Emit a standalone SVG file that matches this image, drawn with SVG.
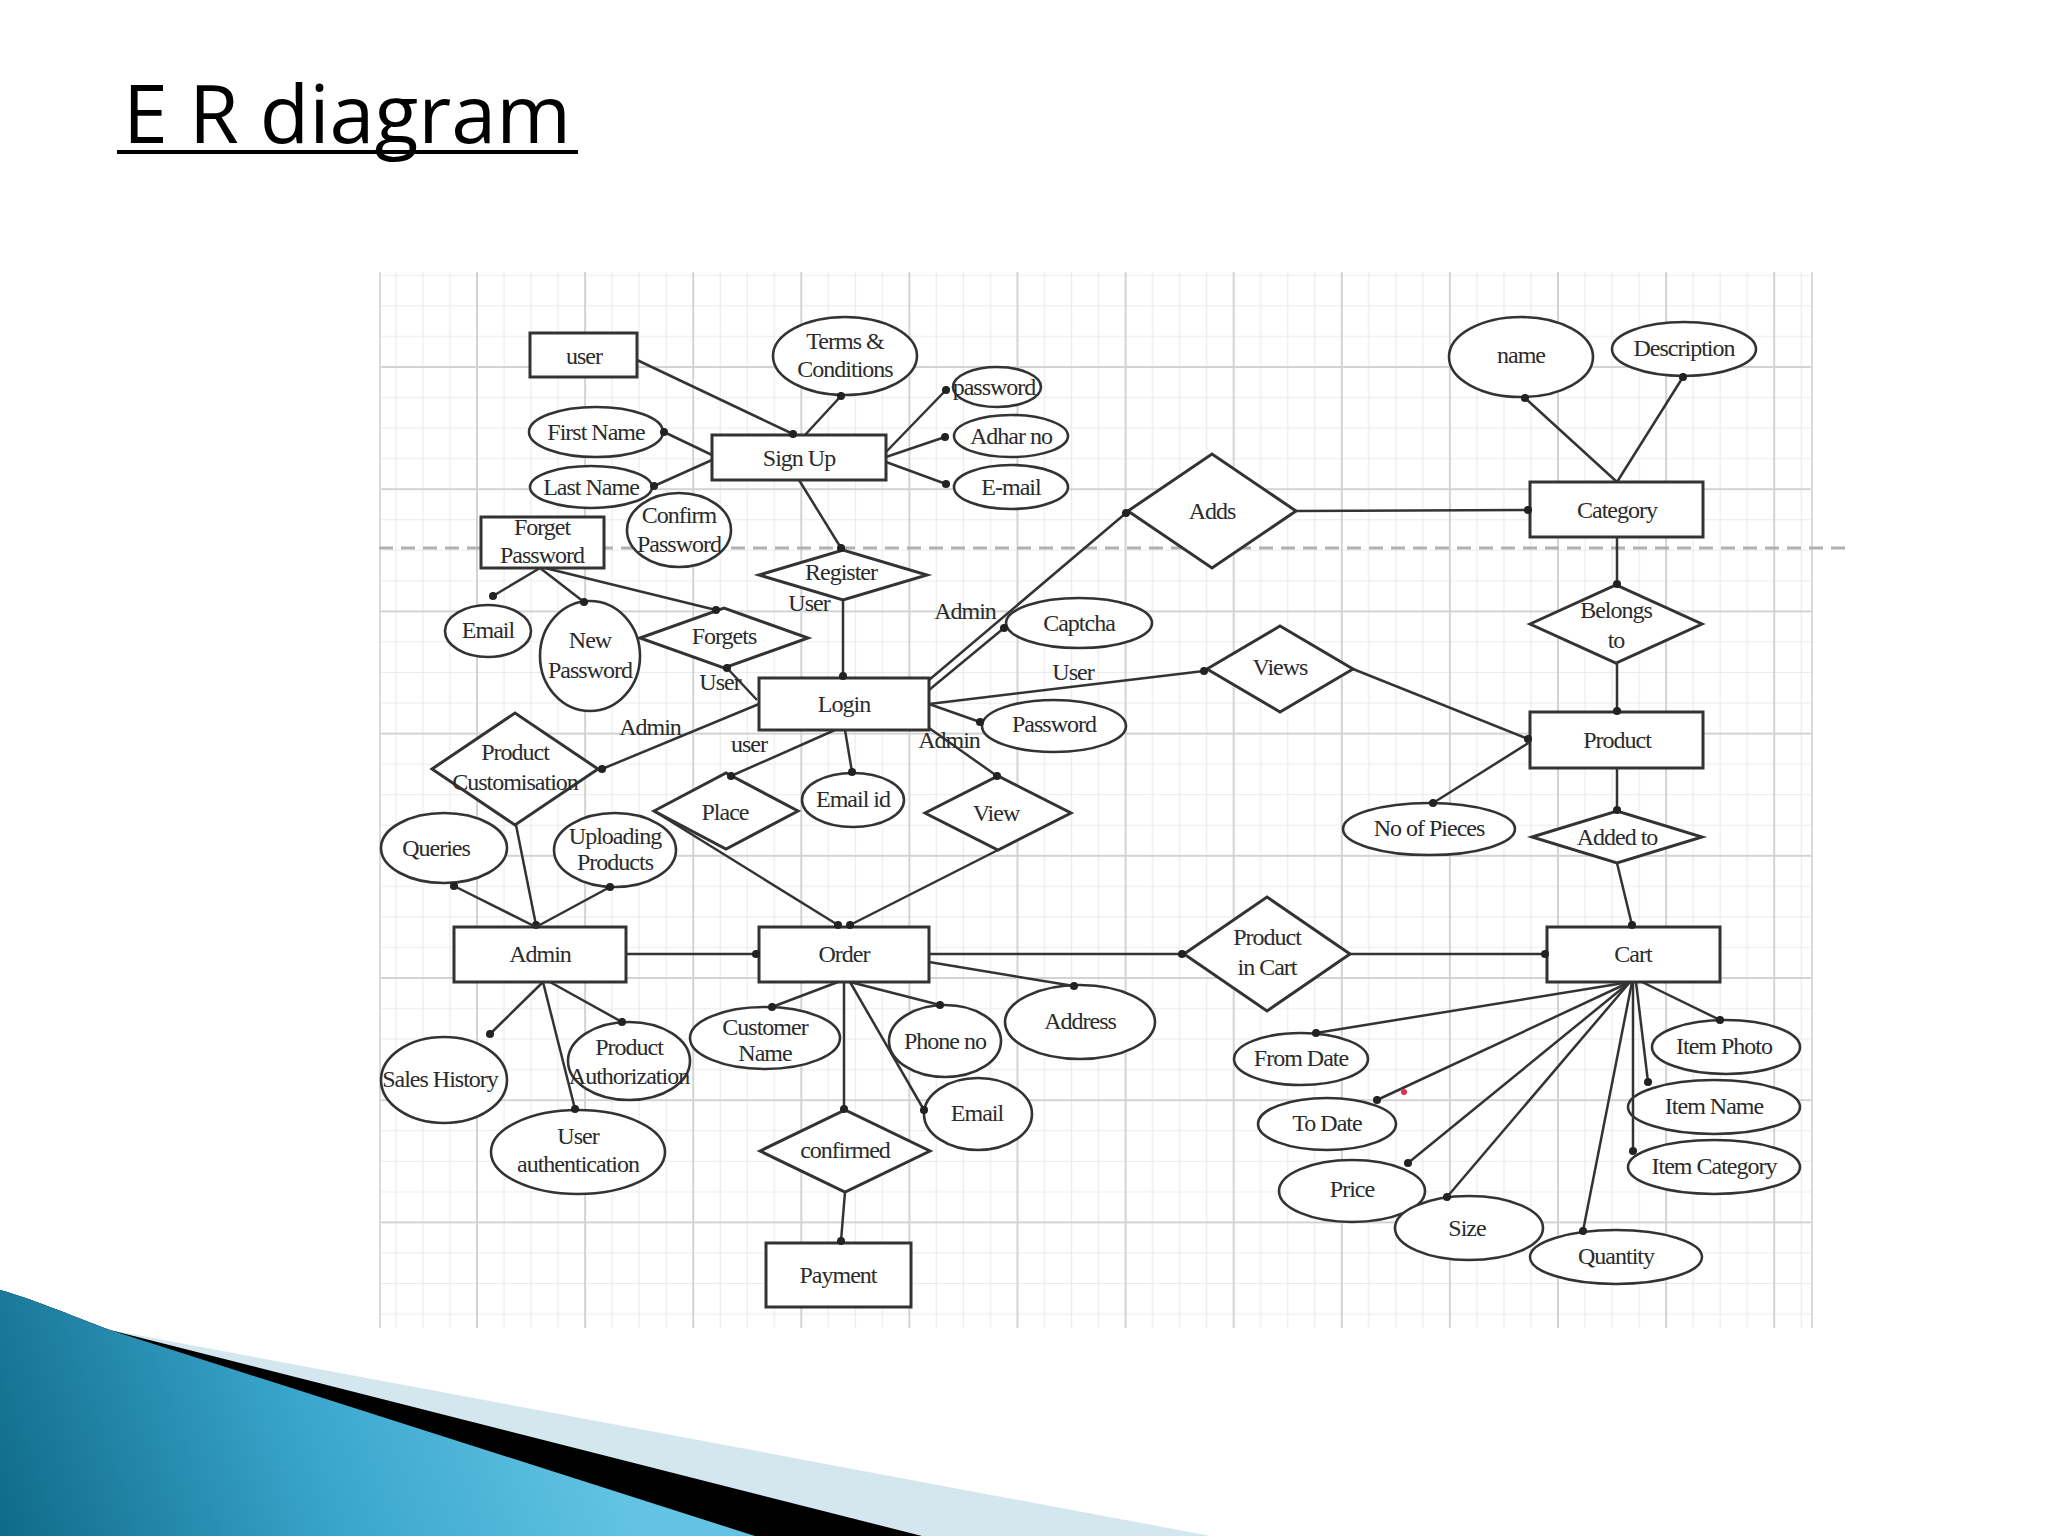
<svg xmlns="http://www.w3.org/2000/svg" width="2048" height="1536" viewBox="0 0 2048 1536">
<style>
.shape{fill:#fff;stroke:#333;stroke-width:3}
.att{fill:#fff;stroke:#333;stroke-width:2.6}
.t{font-family:"Liberation Serif","Times New Roman",serif;font-size:24px;letter-spacing:-1px;fill:#2b2b2b;text-anchor:middle;dominant-baseline:central}
.c{stroke:#333;stroke-width:2.5;fill:none;marker-end:url(#dot)}
.lbl{font-family:"Liberation Serif","Times New Roman",serif;font-size:24px;letter-spacing:-1px;fill:#2b2b2b;text-anchor:middle;dominant-baseline:central}
</style>
<defs>
<pattern id="grid" patternUnits="userSpaceOnUse" x="477" y="367" width="108.1" height="122.2">
<g stroke="#ebebeb" stroke-width="1.2">
<line x1="27.03" y1="0" x2="27.03" y2="122.2"/>
<line x1="54.05" y1="0" x2="54.05" y2="122.2"/>
<line x1="81.08" y1="0" x2="81.08" y2="122.2"/>
<line x1="0" y1="30.55" x2="108.1" y2="30.55"/>
<line x1="0" y1="61.1" x2="108.1" y2="61.1"/>
<line x1="0" y1="91.65" x2="108.1" y2="91.65"/>
</g>
<g stroke="#d3d3d3" stroke-width="2">
<line x1="0" y1="0" x2="0" y2="122.2"/>
<line x1="108.1" y1="0" x2="108.1" y2="122.2"/>
<line x1="0" y1="0" x2="108.1" y2="0"/>
<line x1="0" y1="122.2" x2="108.1" y2="122.2"/>
</g>
</pattern>
<marker id="dot" markerUnits="userSpaceOnUse" viewBox="0 0 10 10" refX="5" refY="5" markerWidth="9" markerHeight="9">
<circle cx="5" cy="5" r="4.5" fill="#222"/>
</marker>
<linearGradient id="blue" gradientUnits="userSpaceOnUse" x1="0" y1="1536" x2="560" y2="1330">
<stop offset="0" stop-color="#0f6a88"/>
<stop offset="0.55" stop-color="#3aa6cd"/>
<stop offset="1" stop-color="#62c3e2"/>
</linearGradient>
</defs>
<rect width="2048" height="1536" fill="#fff"/>
<g id="title">
<text x="123" y="143" font-family="'Open Sans','Noto Sans','DejaVu Sans',sans-serif" font-size="80" textLength="448" lengthAdjust="spacingAndGlyphs" fill="#000">E R diagram</text>
<rect x="117" y="150" width="461" height="4" fill="#000"/>
</g>
<g id="background-grid">
<rect x="379" y="272" width="1433" height="1056" fill="url(#grid)"/>
<line x1="380" y1="272" x2="380" y2="1328" stroke="#dadada" stroke-width="2"/>
<line x1="1812" y1="272" x2="1812" y2="1328" stroke="#dadada" stroke-width="2"/>
<line x1="379" y1="548" x2="1848" y2="548" stroke="#b0b0b0" stroke-width="3" stroke-dasharray="14 8"/>
</g>
<g id="decoration">
<path d="M0,1290 C30,1298 70,1315 110,1330 L1211,1536 L0,1536 Z" fill="#d4e7ef"/>
<path d="M0,1290 C30,1298 70,1315 110,1330 L922,1536 L0,1536 Z" fill="#000"/>
<path d="M0,1290 C30,1298 70,1315 110,1330 L755,1536 L0,1536 Z" fill="url(#blue)"/>
</g>
<g id="nodes">
<g id="user"><rect class="shape" x="530" y="333" width="107" height="44"/><text class="t" x="584" y="356">user</text></g>
<g id="signup"><rect class="shape" x="712" y="435" width="174" height="45"/><text class="t" x="799" y="458">Sign Up</text></g>
<g id="forget-password"><rect class="shape" x="481" y="517" width="123" height="51"/><text class="t" x="542" y="527">Forget</text><text class="t" x="542" y="555">Password</text></g>
<g id="login"><rect class="shape" x="759" y="678" width="170" height="52"/><text class="t" x="844" y="704">Login</text></g>
<g id="category"><rect class="shape" x="1530" y="482" width="173" height="55"/><text class="t" x="1617" y="510">Category</text></g>
<g id="product"><rect class="shape" x="1530" y="712" width="173" height="56"/><text class="t" x="1617" y="740">Product</text></g>
<g id="cart"><rect class="shape" x="1547" y="927" width="173" height="55"/><text class="t" x="1633" y="954">Cart</text></g>
<g id="admin"><rect class="shape" x="454" y="927" width="172" height="55"/><text class="t" x="540" y="954">Admin</text></g>
<g id="order"><rect class="shape" x="759" y="927" width="170" height="55"/><text class="t" x="844" y="954">Order</text></g>
<g id="payment"><rect class="shape" x="766" y="1243" width="145" height="64"/><text class="t" x="838" y="1275">Payment</text></g>

<g id="register"><polygon class="shape" points="759,575 843,550 927,575 843,600"/><text class="t" x="841" y="572">Register</text></g>
<g id="forgets"><polygon class="shape" points="640,638 724,608 808,638 724,668"/><text class="t" x="724" y="636">Forgets</text></g>
<g id="adds"><polygon class="shape" points="1128,511 1212,454 1296,511 1212,568"/><text class="t" x="1212" y="511">Adds</text></g>
<g id="views"><polygon class="shape" points="1207,669 1280,626 1353,669 1280,712"/><text class="t" x="1280" y="667">Views</text></g>
<g id="belongs-to"><polygon class="shape" points="1530,624 1616,585 1702,624 1616,663"/><text class="t" x="1616" y="610">Belongs</text><text class="t" x="1616" y="640">to</text></g>
<g id="added-to"><polygon class="shape" points="1532,837 1617,811 1702,837 1617,863"/><text class="t" x="1617" y="837">Added to</text></g>
<g id="product-customisation"><polygon class="shape" points="432,769 515,713 598,769 515,825"/><text class="t" x="515" y="752">Product</text><text class="t" x="515" y="782">Customisation</text></g>
<g id="place"><polygon class="shape" points="654,811 726,773 798,811 726,849"/><text class="t" x="725" y="812">Place</text></g>
<g id="view"><polygon class="shape" points="925,813 998,776 1071,813 998,850"/><text class="t" x="996" y="813">View</text></g>
<g id="product-in-cart"><polygon class="shape" points="1184,954 1267,897 1350,954 1267,1011"/><text class="t" x="1267" y="937">Product</text><text class="t" x="1267" y="967">in Cart</text></g>
<g id="confirmed"><polygon class="shape" points="760,1151 845,1110 930,1151 845,1192"/><text class="t" x="845" y="1150">confirmed</text></g>

<g id="terms"><ellipse class="att" cx="845" cy="356" rx="72" ry="39"/><text class="t" x="845" y="341">Terms &amp;</text><text class="t" x="845" y="369">Conditions</text></g>
<g id="first-name"><ellipse class="att" cx="596" cy="432" rx="67" ry="25"/><text class="t" x="596" y="432">First Name</text></g>
<g id="last-name"><ellipse class="att" cx="591" cy="487" rx="61" ry="21"/><text class="t" x="591" y="487">Last Name</text></g>
<g id="confirm-password"><ellipse class="att" cx="679" cy="530" rx="52" ry="37"/><text class="t" x="679" y="515">Confirm</text><text class="t" x="679" y="544">Password</text></g>
<g id="password-signup"><ellipse class="att" cx="997" cy="387" rx="44" ry="20"/><text class="t" x="994" y="387">password</text></g>
<g id="adhar"><ellipse class="att" cx="1011" cy="436" rx="57" ry="21"/><text class="t" x="1011" y="436">Adhar no</text></g>
<g id="email-signup"><ellipse class="att" cx="1011" cy="487" rx="57" ry="22"/><text class="t" x="1011" y="487">E-mail</text></g>
<g id="email-forget"><ellipse class="att" cx="488" cy="631" rx="43" ry="26"/><text class="t" x="488" y="630">Email</text></g>
<g id="new-password"><ellipse class="att" cx="590" cy="656" rx="50" ry="55"/><text class="t" x="590" y="640">New</text><text class="t" x="590" y="670">Password</text></g>
<g id="captcha"><ellipse class="att" cx="1079" cy="623" rx="73" ry="25"/><text class="t" x="1079" y="623">Captcha</text></g>
<g id="password-login"><ellipse class="att" cx="1054" cy="726" rx="72" ry="26"/><text class="t" x="1054" y="724">Password</text></g>
<g id="email-id"><ellipse class="att" cx="853" cy="800" rx="51" ry="27"/><text class="t" x="853" y="799">Email id</text></g>
<g id="queries"><ellipse class="att" cx="444" cy="848" rx="63" ry="35"/><text class="t" x="436" y="848">Queries</text></g>
<g id="uploading-products"><ellipse class="att" cx="615" cy="850" rx="61" ry="37"/><text class="t" x="615" y="836">Uploading</text><text class="t" x="615" y="862">Products</text></g>
<g id="sales-history"><ellipse class="att" cx="444" cy="1080" rx="63" ry="43"/><text class="t" x="440" y="1079">Sales History</text></g>
<g id="product-authorization"><ellipse class="att" cx="629" cy="1061" rx="61" ry="39"/><text class="t" x="629" y="1047">Product</text><text class="t" x="629" y="1076">Authorization</text></g>
<g id="user-authentication"><ellipse class="att" cx="578" cy="1152" rx="87" ry="42"/><text class="t" x="578" y="1136">User</text><text class="t" x="578" y="1164">authentication</text></g>
<g id="customer-name"><ellipse class="att" cx="765" cy="1038" rx="75" ry="31"/><text class="t" x="765" y="1027">Customer</text><text class="t" x="765" y="1053">Name</text></g>
<g id="phone-no"><ellipse class="att" cx="945" cy="1041" rx="56" ry="36"/><text class="t" x="945" y="1041">Phone no</text></g>
<g id="email-order"><ellipse class="att" cx="978" cy="1114" rx="54" ry="36"/><text class="t" x="977" y="1113">Email</text></g>
<g id="address"><ellipse class="att" cx="1080" cy="1022" rx="75" ry="37"/><text class="t" x="1080" y="1021">Address</text></g>
<g id="name"><ellipse class="att" cx="1521" cy="357" rx="72" ry="40"/><text class="t" x="1521" y="355">name</text></g>
<g id="description"><ellipse class="att" cx="1684" cy="349" rx="72" ry="27"/><text class="t" x="1684" y="348">Description</text></g>
<g id="no-of-pieces"><ellipse class="att" cx="1429" cy="829" rx="86" ry="26"/><text class="t" x="1429" y="828">No of Pieces</text></g>
<g id="from-date"><ellipse class="att" cx="1301" cy="1059" rx="67" ry="26"/><text class="t" x="1301" y="1058">From Date</text></g>
<g id="to-date"><ellipse class="att" cx="1327" cy="1124" rx="69" ry="26"/><text class="t" x="1327" y="1123">To Date</text></g>
<g id="price"><ellipse class="att" cx="1352" cy="1191" rx="73" ry="31"/><text class="t" x="1352" y="1189">Price</text></g>
<g id="size"><ellipse class="att" cx="1469" cy="1228" rx="74" ry="32"/><text class="t" x="1467" y="1228">Size</text></g>
<g id="quantity"><ellipse class="att" cx="1616" cy="1257" rx="86" ry="27"/><text class="t" x="1616" y="1256">Quantity</text></g>
<g id="item-photo"><ellipse class="att" cx="1726" cy="1047" rx="74" ry="27"/><text class="t" x="1724" y="1046">Item Photo</text></g>
<g id="item-name"><ellipse class="att" cx="1714" cy="1107" rx="86" ry="27"/><text class="t" x="1714" y="1106">Item Name</text></g>
<g id="item-category"><ellipse class="att" cx="1714" cy="1167" rx="86" ry="27"/><text class="t" x="1714" y="1166">Item Category</text></g>
</g>
<g id="connectors">
<line class="c" x1="637" y1="360" x2="793" y2="434"/>
<line class="c" x1="805" y1="435" x2="841" y2="396"/>
<line class="c" x1="712" y1="455" x2="664" y2="432"/>
<line class="c" x1="712" y1="460" x2="654" y2="486"/>
<line class="c" x1="886" y1="452" x2="946" y2="390"/>
<line class="c" x1="886" y1="457" x2="945" y2="437"/>
<line class="c" x1="886" y1="462" x2="946" y2="484"/>
<line class="c" x1="799" y1="480" x2="841" y2="548"/>
<line class="c" x1="843" y1="600" x2="843" y2="676"/>
<line class="c" x1="540" y1="568" x2="493" y2="596"/>
<line class="c" x1="540" y1="568" x2="584" y2="602"/>
<line class="c" x1="545" y1="568" x2="716" y2="610"/>
<line class="c" x1="757" y1="700" x2="727" y2="668"/>
<line class="c" x1="929" y1="680" x2="1126" y2="513"/>
<line class="c" x1="929" y1="690" x2="1004" y2="628"/>
<line class="c" x1="929" y1="704" x2="1204" y2="671"/>
<line class="c" x1="929" y1="704" x2="980" y2="722"/>
<line class="c" x1="929" y1="728" x2="997" y2="776"/>
<line class="c" x1="835" y1="730" x2="731" y2="776"/>
<line class="c" x1="845" y1="730" x2="852" y2="772"/>
<line class="c" x1="759" y1="704" x2="602" y2="769"/>
<line class="c" x1="654" y1="811" x2="838" y2="925"/>
<line class="c" x1="998" y1="850" x2="850" y2="925"/>
<line class="c" x1="516" y1="825" x2="536" y2="925"/>
<line class="c" x1="536" y1="927" x2="454" y2="886"/>
<line class="c" x1="536" y1="927" x2="610" y2="887"/>
<line class="c" x1="626" y1="954" x2="756" y2="954"/>
<line class="c" x1="543" y1="982" x2="490" y2="1034"/>
<line class="c" x1="543" y1="982" x2="575" y2="1109"/>
<line class="c" x1="550" y1="982" x2="622" y2="1022"/>
<line class="c" x1="929" y1="954" x2="1182" y2="954"/>
<line class="c" x1="1350" y1="954" x2="1545" y2="954"/>
<line class="c" x1="838" y1="982" x2="772" y2="1007"/>
<line class="c" x1="844" y1="982" x2="844" y2="1109"/>
<line class="c" x1="850" y1="982" x2="940" y2="1005"/>
<line class="c" x1="850" y1="982" x2="924" y2="1110"/>
<line class="c" x1="929" y1="962" x2="1074" y2="986"/>
<line class="c" x1="845" y1="1192" x2="841" y2="1241"/>
<line class="c" x1="1296" y1="511" x2="1528" y2="510"/>
<line class="c" x1="1617" y1="482" x2="1525" y2="398"/>
<line class="c" x1="1617" y1="482" x2="1683" y2="377"/>
<line class="c" x1="1617" y1="537" x2="1617" y2="584"/>
<line class="c" x1="1617" y1="663" x2="1617" y2="711"/>
<line class="c" x1="1353" y1="669" x2="1528" y2="739"/>
<line class="c" x1="1530" y1="742" x2="1433" y2="803"/>
<line class="c" x1="1617" y1="768" x2="1617" y2="810"/>
<line class="c" x1="1617" y1="863" x2="1632" y2="925"/>
<line class="c" x1="1630" y1="982" x2="1316" y2="1033"/>
<line class="c" x1="1630" y1="982" x2="1377" y2="1100"/>
<line class="c" x1="1630" y1="982" x2="1408" y2="1163"/>
<line class="c" x1="1630" y1="982" x2="1447" y2="1197"/>
<line class="c" x1="1632" y1="982" x2="1583" y2="1231"/>
<line class="c" x1="1633" y1="982" x2="1633" y2="1151"/>
<line class="c" x1="1636" y1="982" x2="1648" y2="1082"/>
<line class="c" x1="1642" y1="982" x2="1720" y2="1020"/>
</g>
<g id="edge-labels">
<text class="lbl" x="809" y="603">User</text>
<text class="lbl" x="720" y="682">User</text>
<text class="lbl" x="965" y="611">Admin</text>
<text class="lbl" x="1073" y="672">User</text>
<text class="lbl" x="650" y="727">Admin</text>
<text class="lbl" x="749" y="744">user</text>
<text class="lbl" x="949" y="740">Admin</text>
</g>
<circle cx="1404" cy="1092" r="3" fill="#e0304a"/>
</svg>
